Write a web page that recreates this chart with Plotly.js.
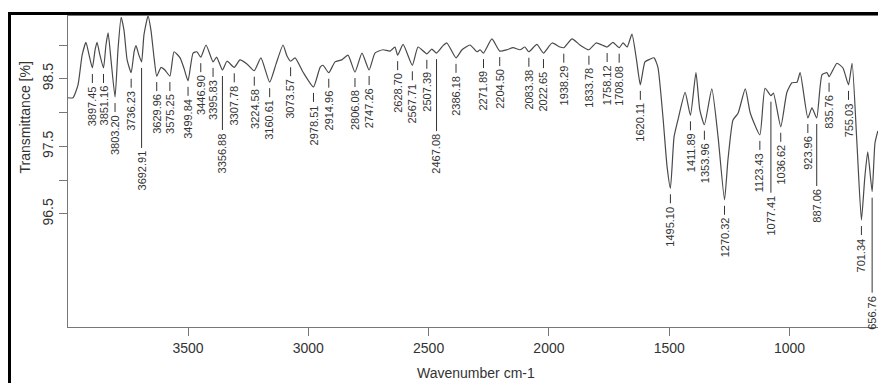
<!DOCTYPE html>
<html><head><meta charset="utf-8">
<script src="https://cdn.plot.ly/plotly-3.0.1.min.js"></script>
<style>
html,body{margin:0;padding:0;background:#fff;}
#wrap{position:relative;width:878px;height:383px;overflow:hidden;}
#chart{width:878px;height:383px;}
#frame{position:absolute;left:8px;top:12px;width:900px;height:420px;border-left:3px solid #000;border-top:3px solid #000;pointer-events:none;}
</style></head><body>
<div id="wrap"><div id="chart"></div><div id="frame"></div></div>
<script>
// ---- data ----
const wavenumber = [
 4000,3978,3957,3940,3924,3911,3897.45,3886,3878,3866,
 3851.16,3841,3832,3820,3803.2,3791,3778,3766,3753,3736.23,
 3724,3716,3704,3692.91,3683,3666,3654,3641,3629.96,3612,
 3596,3575.25,3558,3533,3517,3499.84,3479,3463,3446.9,3425,
 3395.83,3381,3356.88,3338,3307.78,3284,3255,3224.58,3197,3160.61,
 3134,3105,3089,3073.57,3055,3022,2978.51,2951,2939,2914.96,
 2889,2861,2835,2806.08,2777,2747.26,2723,2690,2660,2640,
 2628.7,2606,2567.71,2544,2507.39,2487,2467.08,2440,2424,2386.18,
 2361,2328,2299,2286,2271.89,2237,2204.5,2174,2149,2120,
 2100,2083.38,2050,2022.65,1987,1954,1938.29,1904,1871,1833.78,
 1804,1779,1758.12,1734,1708.08,1692,1675,1655,1636,1620.11,
 1601,1580,1563,1547,1526,1509,1495.1,1480,1464,1434,
 1411.89,1389,1373,1353.96,1323,1297,1270.32,1256,1235,1214,
 1184,1163,1123.43,1102,1077.41,1067,1036.62,1011,990,969,
 956,923.96,907,887.06,865,844,835.76,803,778,755.03,
 740,720,701.34,687,675,656.76,645,633
];
const transmittance = [
 98.22,98.22,98.41,98.85,99.04,98.85,98.66,98.93,99.04,98.85,
 98.66,99.0,99.18,98.78,98.23,98.93,99.41,99.22,98.78,98.59,
 98.90,98.99,98.85,98.75,99.15,99.43,99.22,98.81,98.54,98.67,
 98.63,98.54,98.90,98.81,98.66,98.47,98.88,98.90,98.82,99.0,
 98.75,98.82,98.63,98.76,98.67,98.78,98.72,98.62,98.81,98.45,
 98.72,99.0,98.84,98.76,98.81,98.60,98.38,98.67,98.70,98.59,
 98.75,98.78,98.85,98.60,98.88,98.63,98.88,98.93,98.91,98.97,
 98.85,99.01,98.70,98.97,98.87,98.94,98.88,98.99,99.03,98.81,
 98.93,99.0,98.90,98.93,98.88,99.09,98.91,98.93,98.96,98.93,
 98.97,98.90,99.01,98.88,99.03,98.97,98.96,99.09,99.0,98.93,
 99.03,99.0,98.97,99.04,98.96,99.03,98.97,99.16,98.78,98.41,
 98.75,98.79,98.81,98.67,97.93,97.20,96.88,97.64,97.89,98.30,
 97.96,98.59,98.04,97.82,98.35,97.64,96.71,97.30,97.89,97.99,
 98.35,97.99,97.67,98.36,98.25,98.29,97.79,98.30,98.44,98.45,
 98.59,97.92,98.07,97.92,98.56,98.59,98.53,98.73,98.66,98.41,
 98.73,97.55,96.41,97.05,97.42,96.83,97.55,97.73
];
const peakLabels = [
 '3897.45','3851.16','3803.20','3736.23','3692.91','3629.96','3575.25','3499.84',
 '3446.90','3395.83','3356.88','3307.78','3224.58','3160.61','3073.57','2978.51',
 '2914.96','2806.08','2747.26','2628.70','2567.71','2507.39','2467.08','2386.18',
 '2271.89','2204.50','2083.38','2022.65','1938.29','1833.78','1758.12','1708.08',
 '1620.11','1495.10','1411.89','1353.96','1270.32','1123.43','1077.41','1036.62',
 '923.96','887.06','835.76','755.03','701.34','656.76'
];
const xTickVals = [3500, 3000, 2500, 2000, 1500, 1000];
const yTickVals = [96.5, 97, 97.5, 98, 98.5, 99];
const yTickText = ['96.5', '', '97.5', '', '98.5', ''];
const xTitle = 'Wavenumber cm-1';
const yTitle = 'Transmittance [%]';

// ---- layout / style ----
const longLeaders = {'3692.91':80, '3356.88':54, '2467.08':72, '1077.41':91, '887.06':62, '656.76':95};
const leaderGap = 6, leaderDefault = 9, textGap = 3;
const ink = '#333', axisCol = '#777';

function valueAt(w){
  let best = 0, bd = Infinity;
  for (let i = 0; i < wavenumber.length; i++){
    const d = Math.abs(wavenumber[i] - w);
    if (d < bd){ bd = d; best = i; }
  }
  return transmittance[best];
}

const shapes = [], annotations = [];
peakLabels.forEach(lab => {
  const w = parseFloat(lab);
  const t = valueAt(w);
  const len = longLeaders[lab] || leaderDefault;
  shapes.push({type:'line', xref:'x', yref:'y', ysizemode:'pixel', yanchor:t,
    x0:w, x1:w, y0:-leaderGap, y1:-(leaderGap+len), line:{color:ink, width:1}});
  annotations.push({x:w, y:t, xref:'x', yref:'y', text:lab, showarrow:false,
    textangle:-90, xanchor:'center', yanchor:'top', yshift:-(leaderGap+len+textGap),
    borderpad:0, borderwidth:0, font:{size:11, color:ink}});
});
annotations.push({xref:'paper', yref:'paper', x:-0.0531, y:0.6736, text:yTitle,
  showarrow:false, textangle:-90, xanchor:'center', yanchor:'middle', font:{size:14, color:ink}});
annotations.push({xref:'paper', yref:'paper', x:0.5037, y:-0.148, text:xTitle,
  showarrow:false, xanchor:'center', yanchor:'middle', font:{size:14, color:ink}});

const trace = {x:wavenumber, y:transmittance, type:'scatter', mode:'lines',
  line:{color:'#4a4a4a', width:1.2, shape:'spline', smoothing:0.5}, hoverinfo:'none'};

const layout = {
  width:878, height:383,
  margin:{l:68, r:0, t:16, b:56, pad:0},
  paper_bgcolor:'#fff', plot_bgcolor:'#fff', showlegend:false,
  font:{family:'"Liberation Sans", Arial, Helvetica, sans-serif', color:ink, size:14},
  xaxis:{range:[3998.7, 632.4], autorange:false, tickmode:'array', tickvals:xTickVals,
    ticktext:xTickVals.map(String), ticks:'outside', ticklen:8, tickcolor:axisCol, tickwidth:1,
    showline:true, linecolor:axisCol, linewidth:1, mirror:true, showgrid:false, zeroline:false,
    tickfont:{size:14, color:ink}},
  yaxis:{range:[94.828, 99.429], autorange:false, tickmode:'array', tickvals:yTickVals,
    ticktext:yTickText, ticks:'outside', ticklen:8, tickcolor:axisCol, tickwidth:1, tickangle:-90,
    showline:true, linecolor:axisCol, linewidth:1, mirror:true, showgrid:false, zeroline:false,
    tickfont:{size:14, color:ink}, ticklabelstandoff:0},
  shapes:shapes, annotations:annotations
};
Plotly.newPlot('chart', [trace], layout, {staticPlot:true, displayModeBar:false});
</script></body></html>
